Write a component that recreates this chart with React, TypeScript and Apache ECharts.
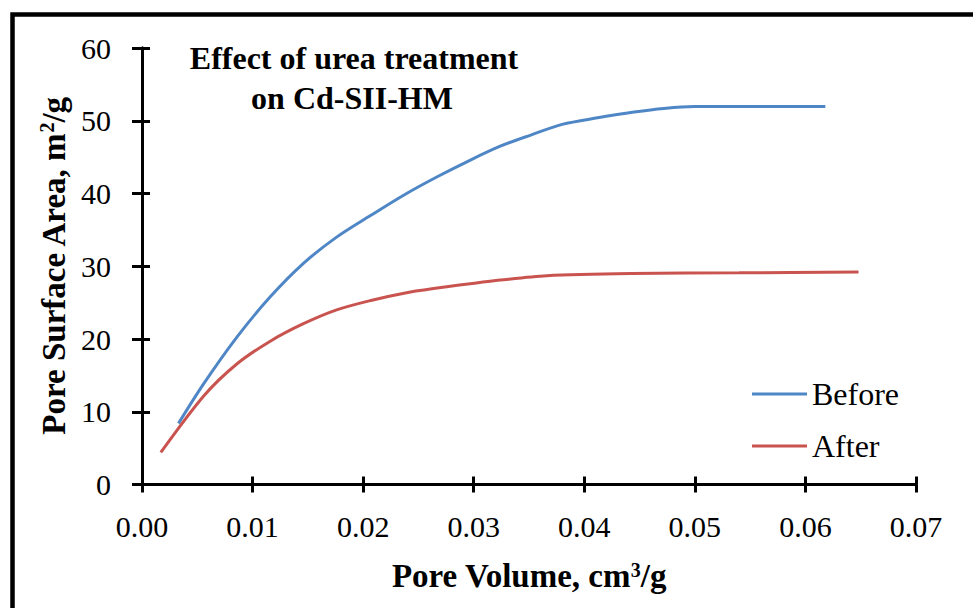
import React, { useEffect, useRef } from "react";
import * as echarts from "echarts";

const seriesNames = ["Before", "After"];
const beforeData: [number, number][] = [
  [0.0033, 8.4], [0.0056, 13.9], [0.0086, 20.3], [0.0116, 25.8], [0.0146, 30.4],
  [0.0176, 34.0], [0.0207, 37.0], [0.0237, 39.8], [0.0267, 42.3], [0.0297, 44.6],
  [0.0324, 46.5], [0.0351, 48.0], [0.038, 49.5], [0.0412, 50.4], [0.0445, 51.2], [0.0472, 51.7], [0.050, 51.95], [0.0618, 51.95],
];
const afterData: [number, number][] = [
  [0.0017, 4.4], [0.0056, 12.2], [0.0086, 16.6], [0.0116, 19.7],
  [0.0146, 22.1], [0.0176, 24.0], [0.0207, 25.3], [0.0237, 26.3], [0.0267, 27.0],
  [0.0297, 27.6], [0.0324, 28.1], [0.0366, 28.7], [0.0442, 29.0], [0.0540, 29.1], [0.0648, 29.2],
];
const titleLines = ["Effect of urea treatment", "on Cd-SII-HM"];

const FONT = "'Liberation Serif', 'Times New Roman', serif";

export default function App() {
  const ref = useRef<HTMLDivElement>(null);
  useEffect(() => {
    if (!ref.current) return;
    const chart = echarts.init(ref.current, null, { renderer: "svg" });
    const baseX = {
      type: "value" as const,
      min: 0, max: 0.07, interval: 0.01,
      position: "bottom" as const,
      gridIndex: 0,
      splitLine: { show: false },
      axisLine: { show: true, lineStyle: { color: "#000", width: 3 } },
    };
    const baseY = {
      type: "value" as const,
      min: 0, max: 60, interval: 10,
      position: "left" as const,
      gridIndex: 0,
      splitLine: { show: false },
      axisLine: { show: true, lineStyle: { color: "#000", width: 3 } },
    };
    const richName = {
      a: { fontFamily: FONT, fontWeight: "bold", fontSize: 33, color: "#000" },
      s: { fontFamily: FONT, fontWeight: "bold", fontSize: 20, color: "#000", verticalAlign: "top" },
    };
    chart.setOption({
      animation: false,
      backgroundColor: "#fff",
      grid: { left: 142, right: 57, top: 48, bottom: 123.5, containLabel: false },
      xAxis: [
        {
          ...baseX,
          axisTick: { show: true, inside: false, length: 8, lineStyle: { color: "#000", width: 3 } },
          axisLabel: { color: "#000", fontFamily: FONT, fontSize: 30, margin: 27, formatter: (v: number) => v.toFixed(2) },
          name: "{a|Pore Volume, cm}{s|3}{a|/g}",
          nameLocation: "middle",
          nameGap: 75,
          nameTextStyle: { rich: richName },
        },
        {
          ...baseX,
          axisTick: { show: true, inside: true, length: 8, lineStyle: { color: "#000", width: 3 } },
          axisLabel: { show: false },
        },
      ],
      yAxis: [
        {
          ...baseY,
          axisTick: { show: true, inside: false, length: 10, lineStyle: { color: "#000", width: 3 } },
          axisLabel: { color: "#000", fontFamily: FONT, fontSize: 30, margin: 31 },
          name: "{a|Pore Surface Area, m}{s|2}{a|/g}",
          nameLocation: "middle",
          nameGap: 64,
          nameTextStyle: { rich: richName },
        },
        {
          ...baseY,
          axisTick: { show: true, inside: true, length: 8, lineStyle: { color: "#000", width: 3 } },
          axisLabel: { show: false },
        },
      ],
      legend: {
        orient: "vertical",
        left: 747,
        top: 373,
        itemWidth: 55,
        itemHeight: 3,
        itemGap: 20,
        icon: "rect",
        textStyle: { fontFamily: FONT, fontSize: 32, color: "#000", padding: [12, 0, 0, 0] },
        data: seriesNames,
      },
      series: [
        {
          name: seriesNames[0], type: "line", data: beforeData, smooth: 0.3,
          showSymbol: false, symbol: "none", color: "#4F86C6",
          lineStyle: { color: "#4F86C6", width: 3 },
        },
        {
          name: seriesNames[1], type: "line", data: afterData, smooth: 0.3,
          showSymbol: false, symbol: "none", color: "#C9544F",
          lineStyle: { color: "#C9544F", width: 3 },
        },
      ],
      graphic: [
        {
          type: "rect", left: 10, top: 12, silent: true,
          shape: { x: 0, y: 0, width: 1000, height: 700 },
          style: { fill: "none", stroke: "#000", lineWidth: 4.5 },
        },
        {
          type: "text", x: 354, y: 58,
          style: { text: titleLines[0], fontFamily: FONT, fontWeight: "bold", fontSize: 32, fill: "#000", align: "center", verticalAlign: "middle" },
        },
        {
          type: "text", x: 352, y: 98,
          style: { text: titleLines[1], fontFamily: FONT, fontWeight: "bold", fontSize: 32, fill: "#000", align: "center", verticalAlign: "middle" },
        },
      ],
    });
    return () => chart.dispose();
  }, []);
  return <div ref={ref} style={{ width: 973, height: 608, position: "absolute", left: 0, top: 0 }} />;
}
